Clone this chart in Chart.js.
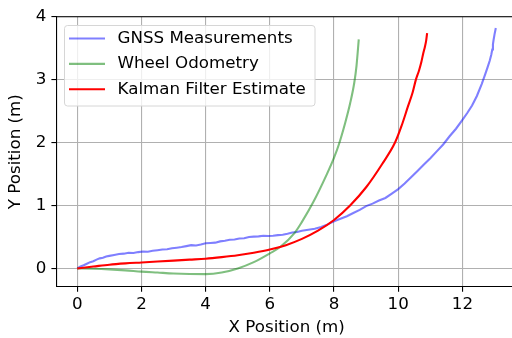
<!DOCTYPE html>
<html>
<head>
<meta charset="utf-8">
<script src="https://cdn.jsdelivr.net/npm/chart.js@4.4.1/dist/chart.umd.min.js"></script>
<style>
  body { margin: 0; background: #fff; }
  #wrap { width: 512px; height: 338px; overflow: hidden; }
</style>
</head>
<body>
<div id="wrap"><canvas id="chart" width="517" height="338"></canvas></div>
<script>
// values
const gnssX = [0, 0.1, 0.2, 0.3, 0.4, 0.5, 0.6, 0.7, 0.8, 0.9, 1.0, 1.15, 1.3, 1.45, 1.6, 1.75, 1.9, 2.05, 2.2, 2.35,
  2.5, 2.65, 2.8, 2.95, 3.1, 3.25, 3.4, 3.55, 3.7, 3.85, 4.0, 4.15, 4.3, 4.45, 4.6, 4.75, 4.9, 5.05, 5.2, 5.35,
  5.5, 5.65, 5.8, 5.95, 6.1, 6.25, 6.4, 6.55, 6.7, 6.85, 7.0, 7.2, 7.4, 7.6, 7.8, 8.0, 8.2, 8.4, 8.6, 8.8,
  9.0, 9.2, 9.4, 9.6, 9.8, 10.0, 10.2, 10.4, 10.6, 10.8, 11.0, 11.2, 11.4, 11.6, 11.8, 12.0, 12.15, 12.3, 12.45, 12.6,
  12.7, 12.78, 12.85, 12.9, 12.93, 12.95, 12.97, 13.0, 13.04];
const gnssY = [0, 0.03, 0.05, 0.075, 0.1, 0.115, 0.14, 0.16, 0.17, 0.19, 0.2, 0.215, 0.23, 0.235, 0.25, 0.245, 0.26, 0.27, 0.265, 0.28,
  0.29, 0.3, 0.305, 0.32, 0.33, 0.34, 0.355, 0.37, 0.365, 0.38, 0.4, 0.405, 0.41, 0.43, 0.44, 0.455, 0.46, 0.475, 0.48, 0.5,
  0.505, 0.51, 0.52, 0.515, 0.52, 0.53, 0.535, 0.55, 0.57, 0.58, 0.6, 0.615, 0.63, 0.66, 0.7, 0.75, 0.79, 0.83, 0.88, 0.93,
  0.99, 1.03, 1.08, 1.12, 1.19, 1.26, 1.35, 1.45, 1.55, 1.65, 1.75, 1.86, 1.97, 2.1, 2.22, 2.36, 2.47, 2.59, 2.74, 2.93,
  3.07, 3.19, 3.3, 3.4, 3.48, 3.56, 3.63, 3.72, 3.82];

const odomX = [0, 0.5, 1, 1.5, 2, 2.5, 3, 3.5, 4, 4.5, 5, 5.5, 6, 6.32, 6.78, 7.0, 7.35, 7.77, 8.0, 8.15, 8.34, 8.5, 8.63, 8.7, 8.77];
const odomY = [0, -0.005, -0.015, -0.03, -0.05, -0.065, -0.08, -0.088, -0.09, -0.065, 0.0, 0.1, 0.24, 0.34, 0.57, 0.74, 1.05, 1.49, 1.76, 1.97, 2.3, 2.62, 2.95, 3.22, 3.64];

const kalmanX = [0, 0.5, 1, 1.5, 2, 2.5, 3, 3.5, 4, 4.5, 5, 5.5, 6, 6.5, 7, 7.5, 8, 8.5, 9, 9.5, 9.9, 10.1, 10.3, 10.45, 10.55, 10.65, 10.72, 10.78, 10.83, 10.87, 10.9];
const kalmanY = [0, 0.03, 0.06, 0.08, 0.095, 0.11, 0.125, 0.14, 0.155, 0.18, 0.21, 0.25, 0.3, 0.37, 0.47, 0.6, 0.77, 1.0, 1.29, 1.66, 2.0, 2.26, 2.57, 2.8, 3.0, 3.15, 3.28, 3.42, 3.52, 3.62, 3.74];

const xTicks = [0, 2, 4, 6, 8, 10, 12];
const yTicks = [0, 1, 2, 3, 4];
const labels = ['GNSS Measurements', 'Wheel Odometry', 'Kalman Filter Estimate'];

const toPoints = (xs, ys) => xs.map((x, i) => ({ x: x, y: ys[i] }));

const font = { family: 'DejaVu Sans', size: 16.7 };

// legend box like matplotlib's, plus the top spine
const boxLegend = {
  id: 'boxLegend',
  afterDraw(chart) {
    const ctx = chart.ctx;
    const a = chart.chartArea;
    ctx.save();
    ctx.strokeStyle = '#000';
    ctx.lineWidth = 1.1;
    ctx.beginPath();
    ctx.moveTo(a.left, a.top);
    ctx.lineTo(a.right, a.top);
    ctx.stroke();

    ctx.beginPath();
    ctx.roundRect(64.5, 25.5, 250.5, 80.5, 3);
    ctx.fillStyle = 'rgba(255,255,255,0.8)';
    ctx.fill();
    ctx.strokeStyle = '#d6d6d6';
    ctx.lineWidth = 1;
    ctx.stroke();

    ctx.font = font.size + 'px ' + font.family;
    ctx.textBaseline = 'middle';
    ctx.textAlign = 'left';
    chart.data.datasets.forEach((ds, i) => {
      const y = 38.5 + i * 25.4;
      ctx.strokeStyle = ds.borderColor;
      ctx.lineWidth = 2.1;
      ctx.beginPath();
      ctx.moveTo(69, y);
      ctx.lineTo(105, y);
      ctx.stroke();
      ctx.fillStyle = '#000';
      ctx.fillText(ds.label, 117.5, y);
    });
    ctx.restore();
  }
};

const ctx = document.getElementById('chart').getContext('2d');
const chart = new Chart(ctx, {
  type: 'scatter',
  data: {
    datasets: [{
      label: labels[0],
      data: toPoints(gnssX, gnssY),
      borderColor: 'rgba(0,0,255,0.5)',
      borderWidth: 2.1,
      showLine: true,
      pointRadius: 0,
      tension: 0,
      order: 3
    }, {
      label: labels[1],
      data: toPoints(odomX, odomY),
      borderColor: 'rgba(0,128,0,0.5)',
      borderWidth: 2.1,
      showLine: true,
      pointRadius: 0,
      cubicInterpolationMode: 'monotone',
      order: 2
    }, {
      label: labels[2],
      data: toPoints(kalmanX, kalmanY),
      borderColor: '#ff0000',
      borderWidth: 2.1,
      showLine: true,
      pointRadius: 0,
      cubicInterpolationMode: 'monotone',
      order: 1
    }]
  },
  options: {
    responsive: false,
    animation: false,
    devicePixelRatio: 1,
    layout: { padding: { top: 16.7, right: 0, left: 0, bottom: 0 } },
    plugins: { legend: { display: false }, tooltip: { enabled: false } },
    scales: {
      x: {
        type: 'linear',
        min: -0.65,
        max: 13.7,
        afterBuildTicks: (s) => { s.ticks = xTicks.map(v => ({ value: v })); },
        afterFit: (s) => { s.height = 51.3; },
        grid: { color: '#b0b0b0', lineWidth: 1.1, tickLength: 5, tickColor: '#000', tickWidth: 1.1 },
        border: { color: '#000', width: 1.1 },
        ticks: { color: '#000', font: font, padding: 3, maxRotation: 0 },
        title: { display: true, text: 'X Position (m)', color: '#000', font: font, padding: { top: 0, bottom: 0 } }
      },
      y: {
        type: 'linear',
        min: -0.29,
        max: 4.0,
        afterBuildTicks: (s) => { s.ticks = yTicks.map(v => ({ value: v })); },
        afterFit: (s) => { s.width = 56.4; },
        grid: { color: '#b0b0b0', lineWidth: 1.1, tickLength: 5, tickColor: '#000', tickWidth: 1.1 },
        border: { color: '#000', width: 1.1 },
        ticks: { color: '#000', font: font, padding: 5 },
        title: { display: true, text: 'Y Position (m)', color: '#000', font: font, padding: { top: 6, bottom: 0 } }
      }
    }
  },
  plugins: [boxLegend]
});
</script>
</body>
</html>
